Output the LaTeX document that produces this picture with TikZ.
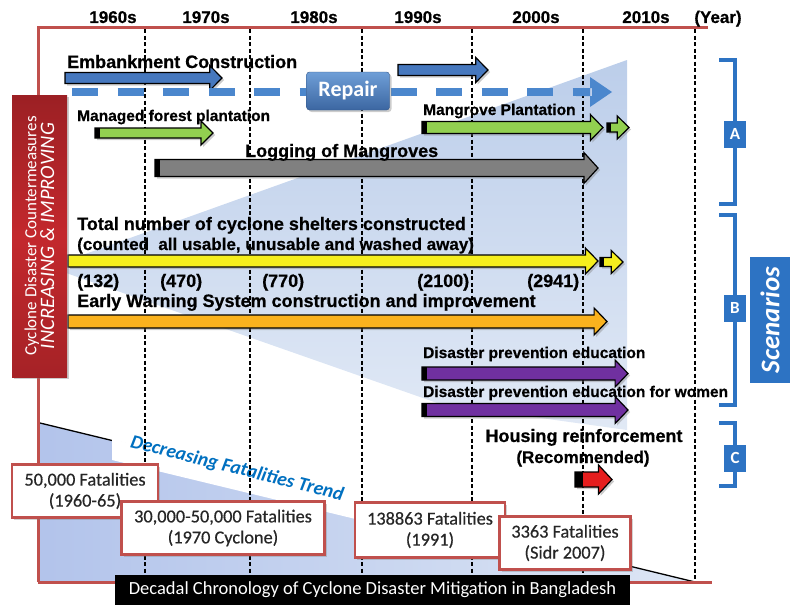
\documentclass[tikz,border=0pt]{standalone}
\usepackage{fontspec}
\setmainfont{Liberation Sans}[BoldFeatures={FakeBold=0.6}]
\newfontfamily\calfont{Carlito}
\newfontfamily\calheavy{Carlito}[FakeBold=0.5]
\usetikzlibrary{shadows}

\definecolor{framered}{RGB}{192,80,77}
\definecolor{labelred}{RGB}{195,40,45}
\definecolor{embblue}{RGB}{70,120,190}
\definecolor{dashblue}{RGB}{75,135,205}
\definecolor{scenblue}{RGB}{45,115,195}
\definecolor{wedgeblue}{RGB}{188,206,234}
\definecolor{trendblue}{RGB}{0,112,192}
\definecolor{mangreen}{RGB}{146,208,80}
\definecolor{loggray}{RGB}{128,128,128}
\definecolor{shelteryel}{RGB}{245,238,30}
\definecolor{ewsorange}{RGB}{250,178,30}
\definecolor{eduviolet}{RGB}{112,48,160}
\definecolor{housered}{RGB}{230,30,30}

% timeline bar: fill, tail x, tip x, mid y, half shaft, tab width
\newcommand{\tlarrow}[6]{%
  \draw[tlbar, fill=#1] (#2,{#4-#5}) -- ({#3-9-0.6*#5},{#4-#5}) -- ({#3-9-0.6*#5},{#4-#5-7})
    -- (#3,#4) -- ({#3-9-0.6*#5},{#4+#5+7}) -- ({#3-9-0.6*#5},{#4+#5}) -- (#2,{#4+#5}) -- cycle;
  \fill (#2,{#4-#5}) rectangle ({#2+#6},{#4+#5});
}

\begin{document}
\begin{tikzpicture}[x=1pt, y=-1pt,
  every node/.style={inner sep=0pt},
  tlbar/.style={draw=black, line width=1.2pt, line join=miter,
    drop shadow={shadow xshift=2pt, shadow yshift=-2pt, opacity=.4}},
  yearlbl/.style={font=\fontsize{17}{20}\selectfont\bfseries, anchor=base},
  barlbl/.style={font=\fontsize{18}{21}\selectfont\bfseries, anchor=base west},
  smalllbl/.style={font=\fontsize{15.5}{18}\selectfont\bfseries, anchor=base west},
  vline/.style={line width=2.2pt, dash pattern=on 4pt off 2.5pt},
  fatbox/.style={draw=framered, line width=2.5pt, fill=white, align=center,
    font=\calheavy\fontsize{18.3}{21}\selectfont, text=black!85,
    drop shadow={shadow xshift=2pt, shadow yshift=-2pt, opacity=.35}},
  scenbox/.style={fill=scenblue, text=white, font=\calfont\bfseries\fontsize{17}{20}\selectfont,
    minimum width=22, minimum height=27},
  bracketline/.style={draw=scenblue, line width=3.5pt}]
\useasboundingbox (0,0) rectangle (790,605);

% shaded wedge behind the countermeasures
\shade[top color=wedgeblue, bottom color=wedgeblue!45] (49,267) -- (627,60) -- (627,430) -- (440,404) -- cycle;

% fatalities trend
\shade[left color=wedgeblue!95!blue, right color=wedgeblue!50] (40,423) -- (695,582) -- (40,582) -- cycle;
\draw[line width=1.3pt] (40,423) -- (695,582);
\fill[white] (112,439) -- (500,533) -- (500,554) -- (112,460) -- cycle;
\node[font=\calfont\bfseries\itshape\fontsize{19.5}{22}\selectfont, text=trendblue, rotate=-14]
  (trend) at (237,469) {Decreasing Fatalities Trend};

% frame and decade lines
\draw[framered, line width=3pt] (38,582) -- (38,27) -- (708,27);
\draw[framered, line width=3pt] (38,582) -- (712,582);
\foreach \xx in {145,250,362,472,583,695}
  \draw[vline] (\xx,29) -- (\xx,580);

\foreach \yr/\xx in {1960s/113,1970s/206,1980s/314,1990s/418,2000s/536,2010s/646,(Year)/718}
  \node[yearlbl] (y\xx) at (\xx,23) {\yr};

% embankment and repair
\tlarrow{embblue}{65}{222}{78}{5.5}{0}
\tlarrow{embblue}{398}{488}{70}{5.5}{0}
\node[barlbl] (embank) at (67,68) {Embankment Construction};
\draw[dashblue, line width=8pt, dash pattern=on 26pt off 19.5pt] (72,92) -- (590,92);
\fill[dashblue] (576,88) rectangle (592,96) (590,77) -- (612,92) -- (590,107) -- cycle;
\node[rounded corners=3pt, top color=dashblue!80!white, bottom color=embblue!85!black,
  draw=embblue!70!black, text=white, font=\calfont\bfseries\fontsize{22}{24}\selectfont,
  minimum width=83, minimum height=38,
  drop shadow={shadow xshift=2pt, shadow yshift=-2pt, opacity=.4}] (repair) at (348,91) {Repair};

% forests
\tlarrow{mangreen}{95}{213}{133}{5}{5}
\node[smalllbl] (managed) at (77,121) {Managed forest plantation};
\tlarrow{mangreen}{422}{603}{127.5}{6}{5}
\tlarrow{mangreen}{607}{629}{127.5}{4.5}{4}
\node[smalllbl] (mangrove) at (423,115) {Mangrove Plantation};
\tlarrow{loggray}{155}{598}{168}{8.5}{5}
\node[barlbl] (logging) at (245,157) {Logging of Mangroves};

% shelters and warning
\node[barlbl] (shelter) at (77,230) {Total number of cyclone shelters constructed};
\node[barlbl, font=\fontsize{17}{20}\selectfont\bfseries] (counted) at (77,250)
  {(counted\ \ all usable, unusable and washed away)};
\tlarrow{shelteryel}{68}{598}{261}{6}{0}
\tlarrow{shelteryel}{600}{623}{262}{4.5}{4}
\foreach \nn/\xx in {132/77,470/160,770/262,2100/417,2941/527}
  \node[barlbl] (n\nn) at (\xx,287) {(\nn)};
\node[barlbl] (ews) at (77,307) {Early Warning System construction and improvement};
\tlarrow{ewsorange}{68}{607}{321.5}{6.5}{0}

% education and housing
\node[smalllbl] (edu) at (423,358) {Disaster prevention education};
\tlarrow{eduviolet}{422}{628}{373.5}{6.5}{5}
\node[smalllbl] (eduwomen) at (423,397) {Disaster prevention education for women};
\tlarrow{eduviolet}{422}{628}{410}{6.5}{5}
\node[barlbl, anchor=base] (housing) at (584,442) {Housing reinforcement};
\node[barlbl, anchor=base, font=\fontsize{17}{20}\selectfont\bfseries] (recom) at (583,463) {(Recommended)};
\tlarrow{housered}{575}{612}{479.5}{7.5}{8}

% fatalities
\node[fatbox, minimum width=146, minimum height=53] (f1960) at (85,491) {50,000 Fatalities\\(1960-65)};
\node[fatbox, minimum width=203, minimum height=53] (f1970) at (223,528) {30,000-50,000 Fatalities\\(1970 Cyclone)};
\node[fatbox, minimum width=150, minimum height=55] (f1991) at (430,530) {138863 Fatalities\\(1991)};
\node[fatbox, minimum width=131, minimum height=53] (f2007) at (565,543) {3363 Fatalities\\(Sidr 2007)};

\node[fill=black, text=white, font=\calfont\fontsize{18.5}{21}\selectfont,
  minimum width=515, minimum height=30] (title) at (372.5,590)
  {Decadal Chronology of Cyclone Disaster Mitigation in Bangladesh};

% side labels
\node[rotate=90, minimum width=282, minimum height=55, align=center, text=white,
  top color=labelred!80!black, bottom color=labelred!85!black, middle color=labelred,
  drop shadow={shadow xshift=2pt, shadow yshift=-2pt, opacity=.4}] (counter) at (39.5,236)
  {\calfont\fontsize{17}{25}\selectfont Cyclone Disaster Countermeasures\\
   \calfont\itshape\fontsize{20.5}{25}\selectfont INCREASING \& IMPROVING};

\draw[bracketline] (719,60) -- (735,60) -- (735,204) -- (719,204);
\draw[bracketline] (719,215) -- (735,215) -- (735,405) -- (719,405);
\draw[bracketline] (719,423) -- (735,423) -- (735,486) -- (719,486);
\node[scenbox] (scA) at (735,134) {A};
\node[scenbox] (scB) at (735,308) {B};
\node[scenbox] (scC) at (735,458) {C};
\node[rotate=90, fill=scenblue, text=white, minimum width=126, minimum height=40,
  font=\calfont\bfseries\itshape\fontsize{27}{30}\selectfont] (scen) at (770,320) {Scenarios};
\end{tikzpicture}
\end{document}
